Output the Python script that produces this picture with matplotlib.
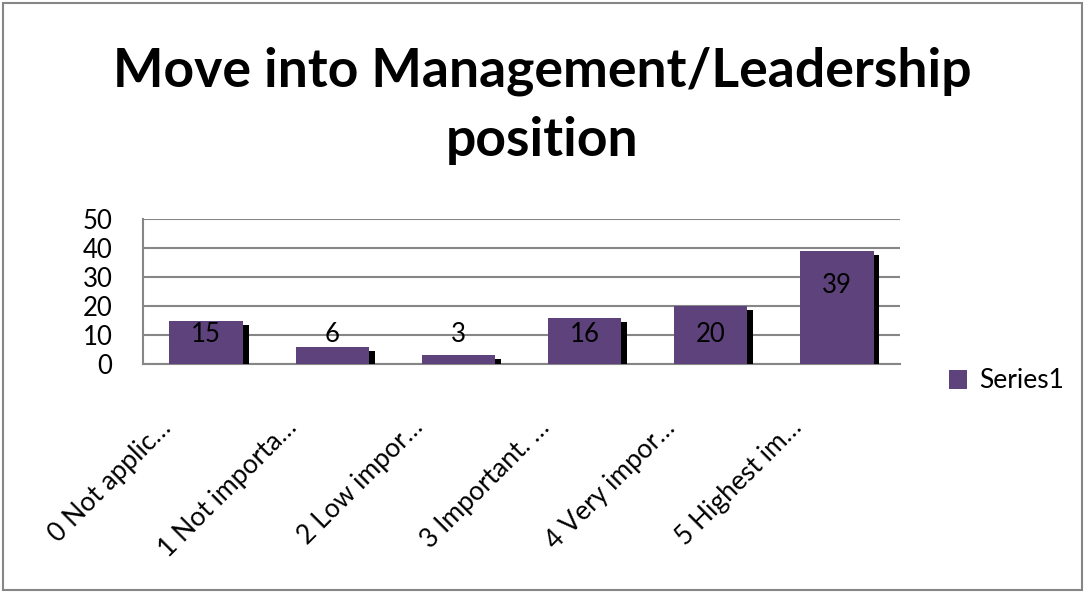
import matplotlib
matplotlib.use("Agg")
import matplotlib.pyplot as plt
import matplotlib.patheffects as pe
from matplotlib.transforms import ScaledTranslation, blended_transform_factory
from matplotlib.patches import Rectangle, Patch

categories = ["0 Not applic\u2026", "1 Not importa\u2026", "2 Low impor\u2026",
              "3 Important. \u2026", "4 Very impor\u2026", "5 Highest im\u2026"]
values = [15, 6, 3, 16, 20, 39]
series_name = "Series1"
title = "Move into Management/Leadership\nposition"
yticks = [0, 10, 20, 30, 40, 50]

FONT = "Lato"
BAR = "#5E427C"
GRID = "#868686"

W, H = 1085, 593
fig = plt.figure(figsize=(W / 100, H / 100), dpi=100)
ax = fig.add_axes([143 / W, 229 / H, 757 / W, 145 / H])

x = list(range(len(values)))
bars = ax.bar(x, values, width=0.58, color=BAR, zorder=3)
for b in bars:
    b.set_path_effects([pe.SimplePatchShadow(offset=(4.3, -2.9), shadow_rgbFace="black", alpha=1.0),
                        pe.Normal()])

ax.set_xlim(-0.5, len(values) - 0.5)
ax.set_ylim(0, 50)
ax.set_yticks(yticks)
ax.set_yticklabels([str(t) for t in yticks], fontsize=18.5, family=FONT)
ax.tick_params(axis="y", length=0, pad=22)
ax.set_xticks([])
ax.grid(axis="y", color=GRID, linewidth=1.5, zorder=0)
for s in ["top", "right"]:
    ax.spines[s].set_visible(False)
for s in ["left", "bottom"]:
    ax.spines[s].set_color(GRID)
    ax.spines[s].set_linewidth(1.5)

# data labels
for xi, v in zip(x, values):
    ax.text(xi, max(v - 12, 10), str(v), ha="center", va="center", fontsize=18.5,
            family=FONT, color="black", zorder=5)

# rotated category labels
trans = blended_transform_factory(ax.transData, ax.transAxes) + \
    ScaledTranslation(-34 / 100, -65 / 100, fig.dpi_scale_trans)
for xi, c in zip(x, categories):
    ax.text(xi, 0, c, rotation=45, rotation_mode="anchor", ha="right", va="baseline",
            fontsize=19, family=FONT, transform=trans)

# legend
handle = Patch(facecolor=BAR, edgecolor="none", label=series_name)
ax.legend(handles=[handle], loc="center left", bbox_to_anchor=(949 / W, 1 - 381 / H),
          bbox_transform=fig.transFigure, frameon=False,
          prop={"family": FONT, "size": 19}, handlelength=0.7, handleheight=0.7,
          handletextpad=0.45, borderpad=0, borderaxespad=0)

# title
fig.text(0.5, 1 - 106 / H, title, ha="center", va="center", fontsize=38.5,
         fontweight="bold", family=FONT, linespacing=1.5)

# outer border
fig.patches.append(Rectangle((3 / W, 3 / H), 1 - 6 / W, 1 - 6 / H, transform=fig.transFigure,
                             fill=False, edgecolor=GRID, linewidth=1.5))

fig.savefig("out.png", dpi=100)
